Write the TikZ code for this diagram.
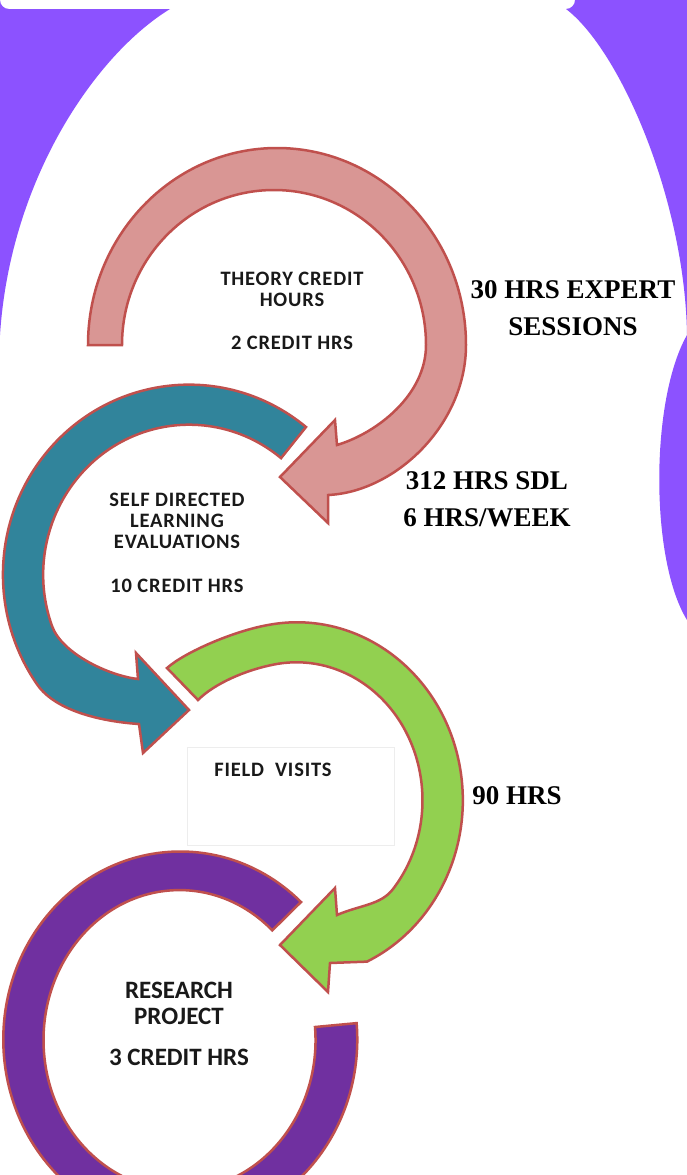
\documentclass[tikz,border=0pt]{standalone}
\usepackage{fontspec}
\setmainfont{Liberation Serif}
\newfontfamily\boxfont{Carlito}
\newfontfamily\wideboxfont[LetterSpace=4]{Carlito}
\usepackage{tikz}

\definecolor{bgpurple}{RGB}{140,82,255}
\definecolor{ringedge}{RGB}{192,80,77}
\definecolor{theorypink}{RGB}{217,150,148}
\definecolor{sdlteal}{RGB}{49,132,155}
\definecolor{fieldgreen}{RGB}{146,208,80}
\definecolor{projpurple}{RGB}{112,48,160}

\tikzset{
    ring/.style={draw=ringedge, line width=2.5pt, line join=miter},
    intext/.style={align=center, text=black!90, font=\wideboxfont\bfseries\fontsize{20.5}{21}\selectfont},
    sidetext/.style={align=center, font=\bfseries\fontsize{27}{37}\selectfont},
    fieldbox/.style={draw=black!7, line width=0.6pt, minimum width=207pt, minimum height=98pt}
}

\begin{document}
\begin{tikzpicture}[x=1pt, y=1pt]
    \useasboundingbox (0, 0) rectangle (687, -1175);
    \clip (0, 0) rectangle (687, -1175);
    \fill[white] (0, 0) rectangle (687, -1175);
    \fill[bgpurple] (0, 0) arc[start angle=180, end angle=270, radius=9] -- (170, -9)
        .. controls (95, -55) and (10, -180) .. (0, -335) -- cycle;
    \fill[bgpurple] (575, 0) -- (687, 0) -- (687, -620)
        .. controls (650, -560) and (650, -400) .. (687, -335)
        .. controls (685, -200) and (620, -50) .. (566, -9)
        arc[start angle=270, end angle=360, radius=9] -- cycle;

    \draw[ring, fill=theorypink] (88, -345) arc[start angle=180, end angle=0, x radius=189, y radius=197]
        .. controls (466, -425) and (395, -492) .. (328, -495)
        -- (328, -523) -- (280, -477) -- (335, -420) -- (337, -445)
        .. controls (377, -433) and (426, -395) .. (426, -345)
        arc[start angle=0, end angle=180, x radius=152, y radius=155] -- cycle;
    \draw[ring, fill=sdlteal] (306, -427) arc[start angle=51, end angle=215, x radius=186, y radius=190]
        .. controls (56, -713) and (108, -722) .. (139, -724)
        -- (143, -753) -- (189, -710) -- (136, -653) -- (138, -679)
        .. controls (110, -676) and (62, -654) .. (52, -626)
        arc[start angle=200, end angle=51, x radius=146, y radius=150] -- cycle;
    \draw[ring, fill=fieldgreen] (167, -668) .. controls (185, -652) and (234, -631) .. (268, -625)
        arc[start angle=100, end angle=-65, x radius=166, y radius=178]
        -- (330, -963) -- (328, -992) -- (280, -945) -- (335, -888) -- (337, -915)
        .. controls (360, -905) and (381, -905) .. (393, -889)
        arc[start angle=-40, end angle=100, x radius=126, y radius=138]
        .. controls (245, -670) and (214, -684) .. (198, -700) -- cycle;
    \draw[ring, fill=projpurple] (301, -902) arc[start angle=47, end angle=365, x radius=177, y radius=188]
        -- (315, -1027) arc[start angle=365, end angle=47, x radius=136, y radius=150] -- cycle;

    \node[intext] (theory) at (292, -311) {THEORY CREDIT\\HOURS\\[22pt]2 CREDIT HRS};
    \node[intext] (sdl) at (177, -543) {SELF DIRECTED\\LEARNING\\EVALUATIONS\\[23pt]10 CREDIT HRS};
    \node[fieldbox] (fvbox) at (291, -796) {};
    \node[intext] (field) at (273, -770) {FIELD\ \ VISITS};
    \node[intext, font=\boxfont\bfseries\fontsize{25}{26}\selectfont] (project) at (179, -1024) {RESEARCH\\PROJECT\\[15pt]3 CREDIT HRS};

    \node[sidetext] (expert) at (573, -308) {30 HRS EXPERT\\SESSIONS};
    \node[sidetext] (selfhrs) at (487, -499) {312 HRS SDL\\6 HRS/WEEK};
    \node[sidetext] (fieldhrs) at (517, -796) {90 HRS};
\end{tikzpicture}
\end{document}
